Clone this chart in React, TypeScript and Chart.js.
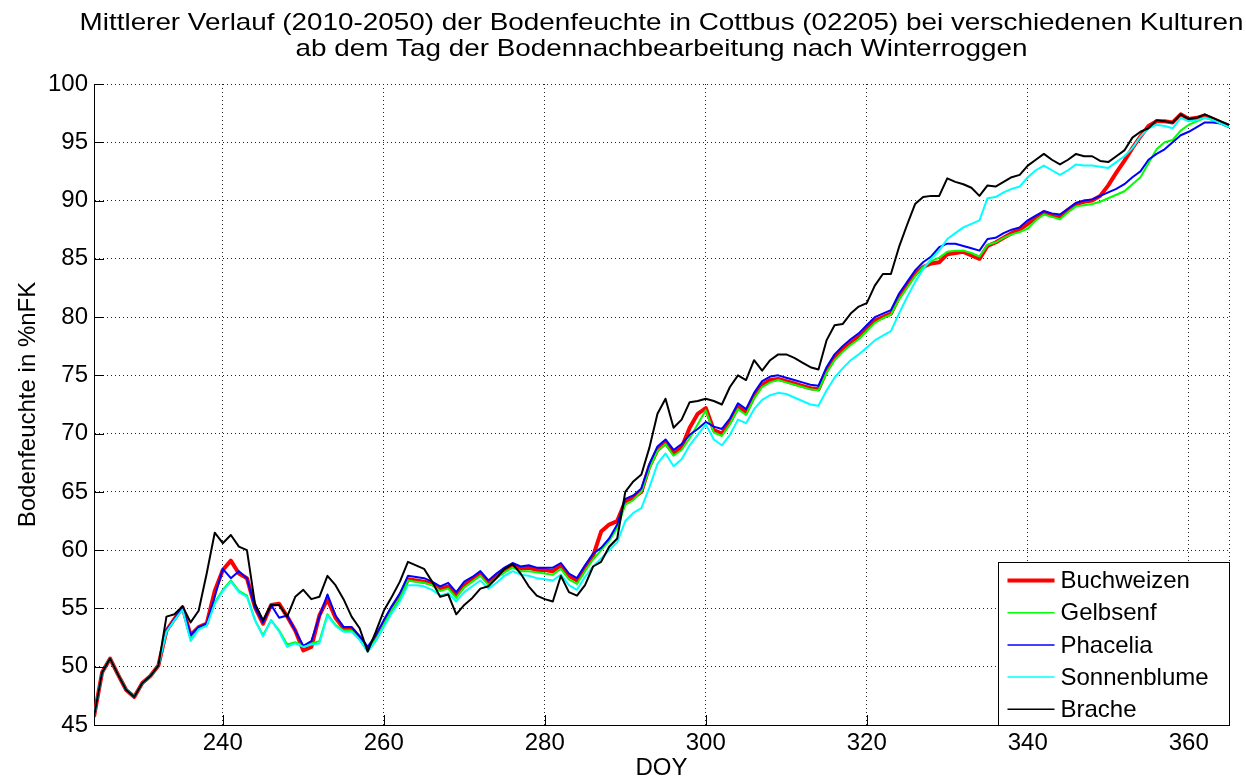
import React, { useEffect, useRef } from "react";
import { Chart, registerables } from "chart.js";

Chart.register(...registerables);

const FONT = "'Liberation Sans', Arial, Helvetica, sans-serif";

const titleLines = [
  "Mittlerer Verlauf (2010-2050) der Bodenfeuchte in Cottbus (02205) bei verschiedenen Kulturen",
  "ab dem Tag der Bodennachbearbeitung nach Winterroggen",
];
const xLabel = "DOY";
const yLabel = "Bodenfeuchte in %nFK";

const startDay = 224;
const endDay = 365;
const xTicks = [240, 260, 280, 300, 320, 340, 360];
const yTicks = [45, 50, 55, 60, 65, 70, 75, 80, 85, 90, 95, 100];

const seriesNames = ["Buchweizen", "Gelbsenf", "Phacelia", "Sonnenblume", "Brache"];
const seriesColors = ["#ff0000", "#00ff00", "#0000ff", "#00ffff", "#000000"];
const seriesWidths = [4, 2, 2, 2, 2];

const buchweizen = [
  45.7, 49.5, 50.7, 49.3, 48.0, 47.4, 48.6, 49.2, 50.1, 53.1,
  54.1, 55.1, 52.7, 53.4, 53.7, 56.5, 58.3, 59.1, 58.0, 57.6,
  55.1, 53.7, 55.3, 55.4, 54.3, 53.1, 51.4, 51.7, 54.4, 55.8,
  54.2, 53.3, 53.3, 52.5, 51.5, 52.4, 53.7, 55.0, 56.0, 57.5,
  57.4, 57.3, 57.1, 56.7, 56.9, 56.1, 57.0, 57.5, 58.0, 57.2,
  57.8, 58.3, 58.7, 58.4, 58.5, 58.3, 58.3, 58.2, 58.7, 57.8,
  57.4, 58.5, 59.5, 61.6, 62.2, 62.5, 64.2, 64.5, 65.0, 67.2,
  68.6, 69.2, 68.3, 68.8, 70.5, 71.7, 72.2, 70.3, 70.0, 71.0,
  72.3, 71.8, 73.2, 74.2, 74.6, 74.7, 74.5, 74.3, 74.1, 73.9,
  73.8, 75.4, 76.5, 77.2, 77.8, 78.3, 79.0, 79.7, 80.0, 80.3,
  81.7, 82.7, 83.7, 84.3, 84.6, 84.7, 85.4, 85.5, 85.6, 85.3,
  85.0, 86.1, 86.4, 86.8, 87.2, 87.5, 88.0, 88.5, 89.0, 88.7,
  88.6, 89.2, 89.7, 89.9, 90.0, 90.4, 91.3, 92.4, 93.4, 94.5,
  95.5, 96.4, 96.8, 96.8, 96.7, 97.4, 97.0, 97.1, 97.3, 97.0,
  96.7, 96.4,
];

const gelbsenf = [
  45.7, 49.5, 50.7, 49.3, 48.0, 47.4, 48.6, 49.2, 50.1, 53.0,
  54.0, 55.0, 52.4, 53.3, 53.6, 55.5, 56.6, 57.4, 56.5, 56.1,
  54.0, 52.7, 54.0, 53.1, 51.9, 52.1, 51.8, 52.0, 52.2, 54.5,
  53.6, 53.1, 53.1, 52.4, 51.4, 52.3, 53.6, 54.9, 55.9, 57.4,
  57.3, 57.2, 57.0, 56.5, 56.7, 55.9, 56.8, 57.3, 57.8, 57.0,
  57.6, 58.1, 58.5, 58.2, 58.2, 58.1, 58.0, 57.9, 58.4, 57.5,
  57.1, 58.2, 59.2, 60.0, 60.8, 61.9, 63.9, 64.3, 65.0, 67.0,
  68.5, 69.1, 68.1, 68.6, 69.6, 70.8, 72.0, 70.1, 69.8, 70.8,
  72.1, 71.6, 73.0, 74.0, 74.4, 74.6, 74.4, 74.2, 74.0, 73.8,
  73.7, 75.2, 76.3, 77.0, 77.6, 78.1, 78.8, 79.5, 79.9, 80.2,
  81.5, 82.5, 83.5, 84.3, 84.8, 85.1, 85.6, 85.7, 85.7, 85.5,
  85.2, 86.2, 86.4, 86.8, 87.1, 87.3, 87.6, 88.3, 88.8, 88.6,
  88.4, 89.0, 89.5, 89.6, 89.7, 89.9, 90.2, 90.5, 90.8, 91.4,
  92.0, 93.2, 94.4, 95.0, 95.2, 96.0, 96.5, 96.8, 97.1, 96.9,
  96.6, 96.3,
];

const phacelia = [
  45.7, 49.5, 50.7, 49.3, 48.0, 47.4, 48.6, 49.2, 50.1, 53.1,
  54.1, 55.1, 52.7, 53.4, 53.7, 56.0, 58.4, 57.6, 58.2, 57.6,
  55.1, 53.8, 55.3, 54.2, 54.4, 53.1, 51.8, 52.2, 54.3, 56.2,
  54.4, 53.4, 53.4, 52.6, 51.7, 52.7, 54.0, 55.2, 56.3, 57.8,
  57.7, 57.6, 57.3, 56.9, 57.2, 56.4, 57.3, 57.7, 58.2, 57.4,
  58.0, 58.5, 58.9, 58.6, 58.7, 58.5, 58.5, 58.5, 58.9, 58.0,
  57.6, 58.7, 59.7, 60.2, 61.0, 62.2, 64.4, 64.7, 65.3, 67.4,
  68.9, 69.5, 68.6, 69.1, 69.9, 70.4, 71.0, 70.6, 70.4, 71.3,
  72.6, 72.1, 73.5, 74.5, 74.9, 75.0, 74.8, 74.6, 74.4, 74.2,
  74.1, 75.7, 76.8, 77.5, 78.1, 78.6, 79.3, 80.0, 80.3, 80.6,
  82.0, 83.0, 84.0, 84.7, 85.2, 86.0, 86.3, 86.3, 86.1, 85.9,
  85.7, 86.7, 86.8, 87.2, 87.5, 87.7, 88.3, 88.7, 89.1, 88.9,
  88.8, 89.3, 89.8, 90.0, 90.1, 90.4, 90.7, 91.0, 91.4, 92.0,
  92.5, 93.5, 94.0, 94.4, 95.0, 95.6, 95.9, 96.3, 96.7, 96.7,
  96.6, 96.3,
];

const sonnenblume = [
  45.7, 49.5, 50.7, 49.3, 48.0, 47.4, 48.6, 49.2, 50.1, 53.0,
  54.0, 54.9, 52.2, 53.2, 53.5, 55.4, 56.5, 57.3, 56.4, 56.0,
  54.0, 52.6, 54.0, 53.0, 51.7, 52.0, 51.7, 51.9, 52.0, 54.4,
  53.5, 53.0, 53.0, 52.3, 51.3, 52.2, 53.4, 54.6, 55.6, 57.0,
  57.0, 56.9, 56.6, 56.1, 56.3, 55.6, 56.4, 56.9, 57.4, 56.7,
  57.2, 57.8, 58.2, 57.9, 57.8, 57.6, 57.5, 57.4, 57.9, 57.0,
  56.6, 57.7, 58.6, 59.3, 60.0, 60.7, 62.5, 63.2, 63.6, 65.4,
  67.4, 68.3, 67.2, 67.8, 69.0, 69.9, 70.8, 69.5, 69.0, 69.9,
  71.2, 70.9, 72.1, 72.9, 73.3, 73.5, 73.4, 73.1, 72.8, 72.5,
  72.4, 73.7, 74.8, 75.6, 76.3, 76.8, 77.4, 78.0, 78.4, 78.8,
  80.3, 81.7, 83.0, 84.1, 85.0, 85.7, 86.7, 87.2, 87.7, 88.0,
  88.3, 90.2, 90.3, 90.7, 91.0, 91.2, 92.0, 92.6, 93.0, 92.6,
  92.2, 92.6, 93.1, 93.0, 93.0, 92.9, 92.8, 93.3, 93.8, 94.5,
  95.5, 96.2, 96.5, 96.4, 96.2, 97.1, 96.8, 96.9, 97.1, 96.9,
  96.6, 96.3,
];

const brache = [
  45.7, 49.5, 50.7, 49.3, 48.0, 47.4, 48.6, 49.2, 50.1, 54.3,
  54.5, 55.2, 53.8, 54.8, 58.0, 61.5, 60.6, 61.3, 60.3, 60.0,
  55.4, 54.0, 55.3, 55.3, 54.3, 56.0, 56.6, 55.8, 56.0, 57.8,
  57.0, 55.8, 54.3, 53.3, 51.3, 53.0, 54.8, 56.0, 57.3, 59.0,
  58.7, 58.4, 57.3, 56.0, 56.2, 54.5, 55.3, 55.9, 56.7, 56.9,
  57.6, 58.4, 58.8, 58.0, 56.9, 56.1, 55.8, 55.6, 57.8, 56.4,
  56.1, 57.0, 58.6, 59.0, 60.3, 61.0, 65.0, 65.9, 66.5, 68.8,
  71.7, 73.0, 70.5, 71.2, 72.7, 72.8, 73.0, 72.8, 72.5, 74.0,
  75.0, 74.6, 76.3, 75.4, 76.3, 76.8, 76.8, 76.5, 76.1, 75.7,
  75.5, 78.0, 79.3, 79.4, 80.3, 80.9, 81.2, 82.7, 83.7, 83.7,
  86.0, 87.9, 89.7, 90.3, 90.4, 90.4, 91.9, 91.6, 91.4, 91.1,
  90.4, 91.3, 91.2, 91.6, 92.0, 92.2, 93.0, 93.5, 94.0, 93.5,
  93.1, 93.5, 94.0, 93.8, 93.8, 93.4, 93.3, 93.8, 94.3, 95.4,
  95.9, 96.2, 96.9, 96.8, 96.7, 97.4, 97.0, 97.1, 97.4, 97.1,
  96.8, 96.5,
];

const seriesValues = [buchweizen, gelbsenf, phacelia, sonnenblume, brache];

const stretchedTitlePlugin = {
  id: "stretchedTitle",
  afterDraw(chart: any) {
    const { ctx, chartArea: a } = chart;
    const cx = (a.left + a.right) / 2;
    const baselines = [29.5, 56];
    ctx.save();
    ctx.font = `24px ${FONT}`;
    ctx.fillStyle = "#000";
    ctx.textAlign = "center";
    ctx.textBaseline = "alphabetic";
    titleLines.forEach((line, i) => {
      ctx.save();
      ctx.translate(cx, baselines[i]);
      ctx.scale(1.16, 1);
      ctx.fillText(line, 0, 0);
      ctx.restore();
    });
    ctx.restore();
  },
};

const boxLegendPlugin = {
  id: "boxLegendAndTicks",
  afterDraw(chart: any) {
    const { ctx, chartArea: a, scales } = chart;
    ctx.save();
    // dotted right edge
    ctx.strokeStyle = "#222";
    ctx.lineWidth = 1;
    ctx.setLineDash([1, 3]);
    ctx.beginPath();
    ctx.moveTo(Math.round(a.right) + 0.5, a.top);
    ctx.lineTo(Math.round(a.right) + 0.5, a.bottom);
    ctx.stroke();
    ctx.setLineDash([]);
    // inward tick marks
    ctx.strokeStyle = "#000";
    ctx.beginPath();
    xTicks.forEach((v) => {
      const x = Math.round(scales.x.getPixelForValue(v)) + 0.5;
      ctx.moveTo(x, a.bottom);
      ctx.lineTo(x, a.bottom - 10);
    });
    yTicks.forEach((v) => {
      const y = Math.round(scales.y.getPixelForValue(v)) + 0.5;
      ctx.moveTo(a.left, y);
      ctx.lineTo(a.left + 10, y);
    });
    ctx.stroke();

    // legend box
    const bw = 231;
    const bh = 163;
    const bx = Math.round(a.right - bw) + 0.5;
    const by = Math.round(a.bottom - bh) + 0.5;
    ctx.fillStyle = "#fff";
    ctx.fillRect(bx, by, bw, bh);
    ctx.strokeStyle = "#000";
    ctx.lineWidth = 1;
    ctx.strokeRect(bx, by, bw, bh);
    ctx.font = `24px ${FONT}`;
    ctx.textBaseline = "middle";
    ctx.textAlign = "left";
    seriesNames.forEach((name, i) => {
      const y = by + 18 + i * 32.2;
      ctx.strokeStyle = seriesColors[i];
      ctx.lineWidth = i === 0 ? 4 : 1.5;
      ctx.beginPath();
      ctx.moveTo(bx + 9, y);
      ctx.lineTo(bx + 56, y);
      ctx.stroke();
      ctx.fillStyle = "#000";
      ctx.fillText(name, bx + 62, y + 1);
    });
    ctx.restore();
  },
};

export default function App() {
  const ref = useRef<HTMLCanvasElement>(null);

  useEffect(() => {
    const canvas = ref.current;
    if (!canvas) return;
    const datasets = seriesNames.map((name, i) => ({
      label: name,
      data: seriesValues[i].map((v, k) => ({ x: startDay + k, y: v })),
      borderColor: seriesColors[i],
      backgroundColor: seriesColors[i],
      borderWidth: seriesWidths[i],
      pointRadius: 0,
      tension: 0,
      fill: false,
      order: seriesNames.length - i,
      borderJoinStyle: "round" as const,
    }));

    const chart = new Chart(canvas, {
      type: "line",
      data: { datasets },
      plugins: [stretchedTitlePlugin, boxLegendPlugin],
      options: {
        animation: false,
        responsive: false,
        maintainAspectRatio: false,
        layout: { padding: { left: 0, right: 17, top: 84, bottom: 0 } },
        plugins: {
          legend: { display: false },
          tooltip: { enabled: false },
          title: { display: false },
        },
        scales: {
          x: {
            type: "linear",
            min: startDay,
            max: endDay,
            afterFit: (s: any) => {
              s.height = 55;
            },
            afterBuildTicks: (s: any) => {
              s.ticks = xTicks.map((v) => ({ value: v }));
            },
            ticks: {
              color: "#000",
              font: { family: FONT, size: 24 },
              padding: 4,
              maxRotation: 0,
              autoSkip: false,
              callback: (v: any) => String(v),
            },
            grid: { color: "#222", lineWidth: 1, drawTicks: false },
            border: { display: true, color: "#000", width: 1, dash: [1, 3] },
            title: {
              display: true,
              text: xLabel,
              color: "#000",
              font: { family: FONT, size: 24, lineHeight: 1 },
              padding: { top: 0, bottom: 0 },
            },
          },
          y: {
            type: "linear",
            min: 45,
            max: 100,
            afterFit: (s: any) => {
              s.width = 94;
            },
            afterBuildTicks: (s: any) => {
              s.ticks = yTicks.map((v) => ({ value: v }));
            },
            ticks: {
              color: "#000",
              font: { family: FONT, size: 24 },
              padding: 6,
              autoSkip: false,
              callback: (v: any) => String(v),
            },
            grid: { color: "#222", lineWidth: 1, drawTicks: false },
            border: { display: true, color: "#000", width: 1, dash: [1, 3] },
            title: {
              display: true,
              text: yLabel,
              color: "#000",
              font: { family: FONT, size: 24, lineHeight: 1 },
              padding: { top: 16, bottom: 0 },
            },
          },
        },
      },
    } as any);

    return () => {
      chart.destroy();
    };
  }, []);

  return (
    <div style={{ position: "absolute", left: 0, top: 0, width: 1246, height: 780, background: "#fff" }}>
      <canvas ref={ref} width={1246} height={780} style={{ display: "block", width: 1246, height: 780 }} />
    </div>
  );
}
